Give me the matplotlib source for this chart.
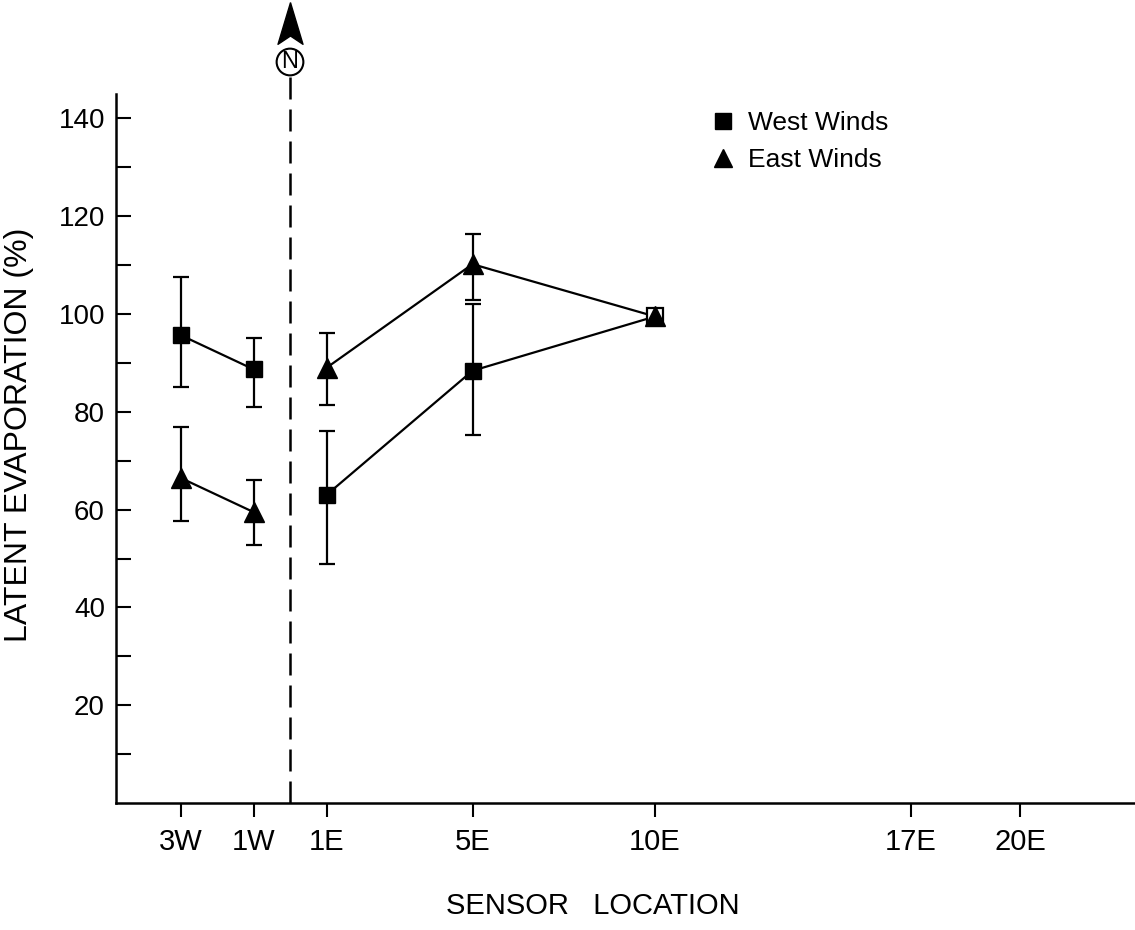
import matplotlib
matplotlib.use("Agg")
from matplotlib import pyplot as plt
from matplotlib.lines import Line2D
import matplotlib.transforms as mtransforms

plt.rcParams['font.family'] = ['Liberation Sans', 'DejaVu Sans']

# sensor positions (distance from the boundary, W negative / E positive)
tick_pos = [-3, -1, 1, 5, 10, 17, 20]
tick_labels = ['3W', '1W', '1E', '5E', '10E', '17E', '20E']

# measured points (sensor position, latent evaporation %)
west_x = [-3, -1, 1, 5, 10]
west_y = [95.7, 88.7, 63.0, 88.4, 99.5]
west_lo = [85.1, 81.0, 48.8, 75.3, 99.5]
west_hi = [107.6, 95.1, 76.1, 102.0, 99.5]

east_x = [-3, -1, 1, 5, 10]
east_y = [66.5, 59.5, 89.0, 110.2, 99.5]
east_lo = [57.6, 52.8, 81.4, 102.9, 99.5]
east_hi = [76.8, 66.1, 96.2, 116.4, 99.5]

# the lines are broken at the boundary (north line)
segments = [[0, 1], [2, 3, 4]]

fig = plt.figure(figsize=(11.35, 9.3), dpi=100)
ax = fig.add_axes([116 / 1135, 1 - 803 / 930, 1 - 116 / 1135, (803 - 94) / 930])

def draw_series(xs, ys, lo, hi):
    for seg in segments:
        ax.plot([xs[i] for i in seg], [ys[i] for i in seg], color='black', lw=1.6, zorder=2)
    for i in range(len(xs)):
        if lo[i] == hi[i]:
            continue
        ax.errorbar(xs[i], ys[i], yerr=[[ys[i] - lo[i]], [hi[i] - ys[i]]],
                    fmt='none', ecolor='black', elinewidth=1.6, capsize=6, capthick=1.6, zorder=2)

draw_series(west_x, west_y, west_lo, west_hi)
draw_series(east_x, east_y, east_lo, east_hi)

# markers (last west point drawn as an open square)
ax.plot(west_x[:-1], west_y[:-1], ls='none', marker='s', ms=12, color='black', zorder=3)
ax.plot(west_x[-1:], west_y[-1:], ls='none', marker='s', ms=12, mfc='white', mec='black', mew=1.6, zorder=3)
ax.plot(east_x, east_y, ls='none', marker='^', ms=14, color='black', zorder=4)

# boundary line with north symbol
ax.plot([0, 0], [0, 149], color='black', lw=1.8, ls=(0, (8.8, 4)), clip_on=False, zorder=1)
blend = mtransforms.blended_transform_factory(ax.transData, fig.transFigure)
ax.text(0, 1 - 62 / 930, 'N', transform=blend, ha='center', va='center', fontsize=17,
        bbox=dict(boxstyle='circle,pad=0.1', fc='white', ec='black', lw=1.5), zorder=5)
arrow = [(0, 1), (-0.6, -1), (0, -0.6), (0.6, -1), (0, 1)]
ax.plot([0], [1 - 23 / 930], transform=blend, marker=arrow, ms=30, color='black',
        clip_on=False, zorder=5)

ax.set_xlim((116 - 290) / 36.5, (1135 - 290) / 36.5)
ax.set_ylim(0, 145)

ax.set_xticks(tick_pos)
ax.set_xticklabels(tick_labels)
ax.set_yticks([20, 40, 60, 80, 100, 120, 140])
ax.set_yticks([10, 30, 50, 70, 90, 110, 130], minor=True)
ax.tick_params(axis='y', which='both', direction='in', length=11, width=1.5, labelsize=20, pad=8)
ax.tick_params(axis='x', direction='out', length=10, width=1.5, labelsize=21, pad=8)

for s in ['top', 'right']:
    ax.spines[s].set_visible(False)
for s in ['left', 'bottom']:
    ax.spines[s].set_linewidth(1.8)

ax.set_ylabel('LATENT EVAPORATION (%)', fontsize=23)
ax.yaxis.set_label_coords(-(116 - 34) / (1135 - 116), (803 - 435) / (803 - 94))
ax.set_xlabel('SENSOR   LOCATION', fontsize=21)
ax.xaxis.set_label_coords((593 - 116) / (1135 - 116), -(892 - 803) / (803 - 94))

handles = [Line2D([], [], ls='none', marker='s', ms=11, color='black'),
           Line2D([], [], ls='none', marker='^', ms=13, color='black')]
ax.legend(handles, ['West Winds', 'East Winds'], loc='upper left',
          bbox_to_anchor=(697 / 1135, 1 - 98 / 930), bbox_transform=fig.transFigure,
          frameon=False, fontsize=19, borderpad=0, handlelength=1.0,
          handletextpad=0.44, labelspacing=0.5)

fig.savefig('out.png', dpi=100)
